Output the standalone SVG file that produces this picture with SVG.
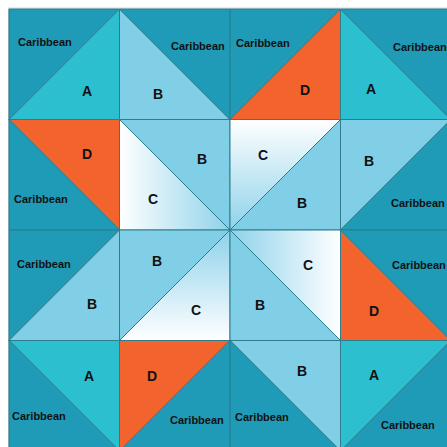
<svg xmlns="http://www.w3.org/2000/svg" width="447" height="447" viewBox="0 0 447 447">
<defs>
<linearGradient id="gL" x1="0" y1="0" x2="1" y2="0"><stop offset="0" stop-color="#ffffff"/><stop offset="1" stop-color="#8ed2ea"/></linearGradient>
<linearGradient id="gT" x1="0" y1="0" x2="0" y2="1"><stop offset="0" stop-color="#ffffff"/><stop offset="1" stop-color="#8ed2ea"/></linearGradient>
<linearGradient id="gB" x1="0" y1="1" x2="0" y2="0"><stop offset="0" stop-color="#ffffff"/><stop offset="1" stop-color="#8ed2ea"/></linearGradient>
<linearGradient id="gR" x1="1" y1="0" x2="0" y2="0"><stop offset="0" stop-color="#ffffff"/><stop offset="1" stop-color="#8ed2ea"/></linearGradient>
</defs>
<style>
polygon{stroke:#2f7d8c;stroke-width:1;stroke-linejoin:round}
.k{fill:#1f9ab7}
.a{fill:#2cbfd0}
.b{fill:#80cfe7}
.d{fill:#f2632e}
text{font-family:"Liberation Sans",Arial,sans-serif;font-weight:bold;fill:#111;dominant-baseline:central}
.n{font-size:11px}
.l{font-size:14px;text-anchor:middle}
</style>
<rect x="0" y="0" width="447" height="447" fill="#ffffff"/>
<rect x="8.5" y="8" width="445" height="445" fill="none" stroke="#cfd6d8" stroke-width="1"/>
<g id="connectors"></g>
<g id="cell-0-0">
<polygon class="k" points="9,9 119.5,9 9,119.5"/>
<polygon class="a" points="119.5,9 119.5,119.5 9,119.5"/>
<text class="n" x="18" y="42">Caribbean</text><text class="l" x="87" y="91">A</text>
</g>
<g id="cell-0-1">
<polygon class="b" points="119.5,9 230,119.5 119.5,119.5"/>
<polygon class="k" points="119.5,9 230,9 230,119.5"/>
<text class="n" x="171" y="46">Caribbean</text><text class="l" x="158" y="94">B</text>
</g>
<g id="cell-0-2">
<polygon class="k" points="230,9 340.5,9 230,119.5"/>
<polygon class="d" points="340.5,9 340.5,119.5 230,119.5"/>
<text class="n" x="236" y="43">Caribbean</text><text class="l" x="305" y="90">D</text>
</g>
<g id="cell-0-3">
<polygon class="a" points="340.5,9 451,119.5 340.5,119.5"/>
<polygon class="k" points="340.5,9 451,9 451,119.5"/>
<text class="n" x="393" y="47">Caribbean</text><text class="l" x="371" y="89">A</text>
</g>
<g id="cell-1-0">
<polygon class="d" points="9,119.5 119.5,119.5 119.5,230"/>
<polygon class="k" points="9,119.5 119.5,230 9,230"/>
<text class="n" x="14" y="199">Caribbean</text><text class="l" x="87" y="154">D</text>
</g>
<g id="cell-1-1">
<polygon fill="url(#gL)" points="119.5,119.5 230,230 119.5,230"/>
<polygon class="b" points="119.5,119.5 230,119.5 230,230"/>
<text class="l" x="153" y="199">C</text><text class="l" x="202" y="159">B</text>
</g>
<g id="cell-1-2">
<polygon fill="url(#gT)" points="230,119.5 340.5,119.5 230,230"/>
<polygon class="b" points="340.5,119.5 340.5,230 230,230"/>
<text class="l" x="263" y="155">C</text><text class="l" x="302" y="203">B</text>
</g>
<g id="cell-1-3">
<polygon class="b" points="340.5,119.5 451,119.5 340.5,230"/>
<polygon class="k" points="451,119.5 451,230 340.5,230"/>
<text class="l" x="369" y="161">B</text><text class="n" x="391" y="203">Caribbean</text>
</g>
<g id="cell-2-0">
<polygon class="k" points="9,230 119.5,230 9,340.5"/>
<polygon class="b" points="119.5,230 119.5,340.5 9,340.5"/>
<text class="n" x="17" y="264">Caribbean</text><text class="l" x="92" y="304">B</text>
</g>
<g id="cell-2-1">
<polygon class="b" points="119.5,230 230,230 119.5,340.5"/>
<polygon fill="url(#gB)" points="230,230 230,340.5 119.5,340.5"/>
<text class="l" x="157" y="261">B</text><text class="l" x="196" y="310">C</text>
</g>
<g id="cell-2-2">
<polygon class="b" points="230,230 340.5,340.5 230,340.5"/>
<polygon fill="url(#gR)" points="230,230 340.5,230 340.5,340.5"/>
<text class="l" x="308" y="265">C</text><text class="l" x="260" y="305">B</text>
</g>
<g id="cell-2-3">
<polygon class="d" points="340.5,230 451,340.5 340.5,340.5"/>
<polygon class="k" points="340.5,230 451,230 451,340.5"/>
<text class="n" x="392" y="265">Caribbean</text><text class="l" x="374" y="311">D</text>
</g>
<g id="cell-3-0">
<polygon class="a" points="9,340.5 119.5,340.5 119.5,451"/>
<polygon class="k" points="9,340.5 119.5,451 9,451"/>
<text class="l" x="89" y="376">A</text><text class="n" x="12" y="416">Caribbean</text>
</g>
<g id="cell-3-1">
<polygon class="d" points="119.5,340.5 230,340.5 119.5,451"/>
<polygon class="k" points="230,340.5 230,451 119.5,451"/>
<text class="l" x="152" y="376">D</text><text class="n" x="170" y="420">Caribbean</text>
</g>
<g id="cell-3-2">
<polygon class="b" points="230,340.5 340.5,340.5 340.5,451"/>
<polygon class="k" points="230,340.5 340.5,451 230,451"/>
<text class="l" x="302" y="371">B</text><text class="n" x="235" y="417">Caribbean</text>
</g>
<g id="cell-3-3">
<polygon class="a" points="340.5,340.5 451,340.5 340.5,451"/>
<polygon class="k" points="451,340.5 451,451 340.5,451"/>
<text class="l" x="374" y="375">A</text><text class="n" x="381" y="425">Caribbean</text>
</g>
</svg>
